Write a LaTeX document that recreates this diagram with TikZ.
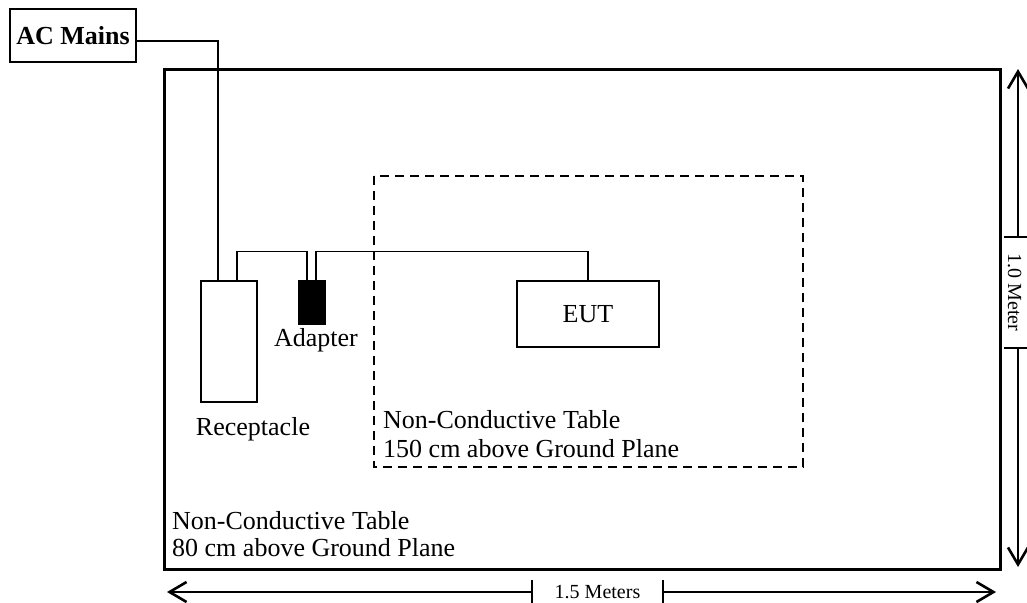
\documentclass[tikz,border=0pt]{standalone}
\usepackage{fontspec}
\setmainfont{Liberation Serif}
\usetikzlibrary{arrows.meta}
\tikzset{
  box/.style={draw, line width=1.5pt, inner sep=0pt, font=\fontsize{26}{30}\selectfont},
  wire/.style={line width=1.5pt},
  lbl/.style={inner sep=0pt, font=\fontsize{26}{30}\selectfont},
  dimlbl/.style={inner sep=0pt, font=\fontsize{20}{24}\selectfont},
  dimline/.style={line width=1.5pt, -{Straight Barb[length=17pt,width=20pt,line width=2.6pt]}},
  tick/.style={line width=1.5pt}
}
\begin{document}
\begin{tikzpicture}[x=1pt,y=-1pt]
\useasboundingbox (0,0) rectangle (1027,602);
% tables
\draw[line width=3pt] (164,69) rectangle (1000,569);
\draw[line width=1.5pt, dash pattern=on 9pt off 6pt] (374,176) rectangle (803,467);
% nodes
\node[box, minimum width=126pt, minimum height=53pt, font=\fontsize{26}{30}\selectfont\bfseries] (acmains) at (73,35.5) {AC Mains};
\node[box, minimum width=56pt, minimum height=121pt] (recept) at (229,341.5) {};
\node[box, fill=black, minimum width=26pt, minimum height=43pt] (adapter) at (312,302.5) {};
\node[box, minimum width=142pt, minimum height=66pt] (eut) at (588,314) {EUT};
% labels
\node[lbl, anchor=base] (adlbl) at (316,346) {Adapter};
\node[lbl, anchor=base] (reclbl) at (253,435) {Receptacle};
\node[lbl, anchor=base west] (t1a) at (383,428) {Non-Conductive Table};
\node[lbl, anchor=base west] (t1b) at (383,457) {150 cm above Ground Plane};
\node[lbl, anchor=base west] (t2a) at (172,529) {Non-Conductive Table};
\node[lbl, anchor=base west] (t2b) at (172,556) {80 cm above Ground Plane};
% wires
\draw[wire] ([yshift=-5.5pt]acmains.east) -| ([xshift=-11pt]recept.north);
\draw[wire] ([xshift=8pt]recept.north) -- ++(0,-29) -| ([xshift=-5pt]adapter.north);
\draw[wire] ([xshift=4pt]adapter.north) -- ++(0,-29) -| (eut.north);
% horizontal dimension
\coordinate (hl) at (532,592);
\coordinate (hr) at (663,592);
\coordinate (hle) at (167,592);
\coordinate (hre) at (996,592);
\draw[dimline] (hl) -- (hle);
\draw[dimline] (hr) -- (hre);
\draw[tick] (532,580) -- (532,604);
\draw[tick] (663,580) -- (663,604);
\node[dimlbl, anchor=base] (hlbl) at (597.5,598) {1.5 Meters};
% vertical dimension
\coordinate (vt) at (1018,237);
\coordinate (vb) at (1018,348);
\coordinate (vte) at (1018,69);
\coordinate (vbe) at (1018,567);
\draw[dimline] (vt) -- (vte);
\draw[dimline] (vb) -- (vbe);
\draw[tick] (1004,237) -- (1032,237);
\draw[tick] (1004,348) -- (1032,348);
\node[dimlbl, anchor=base, rotate=-90] (vlbl) at (1008,292.5) {1.0 Meter};
\end{tikzpicture}
\end{document}
